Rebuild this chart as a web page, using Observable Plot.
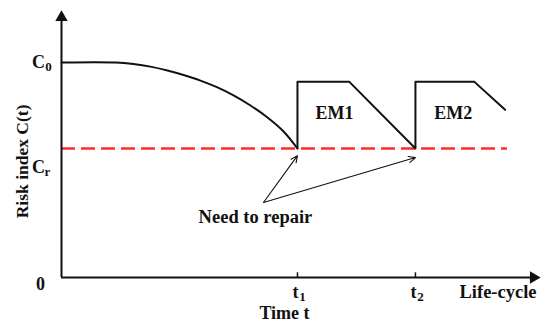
<!DOCTYPE html>
<html>
<head>
<meta charset="utf-8">
<script src="https://cdn.jsdelivr.net/npm/d3@7"></script>
<script src="https://cdn.jsdelivr.net/npm/@observablehq/plot@0.6"></script>
<style>
  html, body { margin: 0; padding: 0; background: #fff; }
</style>
</head>
<body>
<div id="chart"></div>
<script>
// Decay phase of the risk index (time in arbitrary units, C relative to C0)
const decayT = [0, 2.29, 3.05, 3.77, 4.49, 5.17, 5.89, 6.61, 7.29, 8.01, 8.73, 9.41, 10];
const decayC = [1, 1, 0.993, 0.981, 0.963, 0.942, 0.916, 0.884, 0.847, 0.8, 0.744, 0.679, 0.6];
// Maintenance (EM) phases
const emT = [10, 10, 12.2, 15, 15, 17.5, 18.8];
const emC = [0.6, 0.91, 0.91, 0.6, 0.91, 0.91, 0.78];
const C0 = 1;
const Cr = 0.6;
const repairTimes = [10, 15];
const repairSubs = ["1", "2"];
const emLabels = ["EM1", "EM2"];
const emLabelT = [11.57, 16.6];
const emLabelC = [0.763, 0.763];
const noteT = 8.56, noteC = 0.349;           // "Need to repair" arrow origin
const noteEndC = [0.567, 0.558];
const crEnd = 18.9;
const xMax = 20.3, yMax = 1.242;

const font = "Liberation Serif, Times New Roman, serif";
const decay = decayT.map((t, i) => ({t, c: decayC[i]}));
const em = emT.map((t, i) => ({t, c: emC[i]}));
const ems = emLabels.map((s, i) => ({s, t: emLabelT[i], c: emLabelC[i]}));
const notes = repairTimes.map((t, i) => ({t, c: noteEndC[i]}));
const ticks = repairTimes.map((t, i) => ({t, sub: repairSubs[i]}));

const chart = Plot.plot({
  width: 550,
  height: 325,
  marginLeft: 61,
  marginRight: 10,
  marginTop: 10,
  marginBottom: 48,
  x: {domain: [0, xMax], axis: null},
  y: {domain: [0, yMax], axis: null},
  style: {fontFamily: font, fontWeight: "bold", background: "#fff", color: "#111"},
  marks: [
    // critical level dashed line
    Plot.ruleY([Cr], {x1: 0, x2: crEnd, stroke: "#ff2a2a", strokeWidth: 2.6, strokeDasharray: "14,6"}),
    // axes
    Plot.ruleX([0], {y1: 0, y2: yMax - 0.04, stroke: "#111", strokeWidth: 2}),
    Plot.ruleY([0], {x1: 0, x2: xMax - 0.35, stroke: "#111", strokeWidth: 2}),
    Plot.dot([{t: 0, c: yMax}], {x: "t", y: "c", symbol: "triangle", r: 4.6, fill: "#111", stroke: null, dy: 7}),
    Plot.dot([{t: xMax, c: 0}], {x: "t", y: "c", symbol: "triangle", r: 4.6, fill: "#111", stroke: null, rotate: 90, dx: -7}),
    // ticks at t1, t2
    Plot.ruleX(repairTimes, {y1: 0, y2: 0.022, stroke: "#111", strokeWidth: 1.5}),
    // risk curve
    Plot.line(decay, {x: "t", y: "c", stroke: "#111", strokeWidth: 2, curve: "catmull-rom"}),
    Plot.line(em, {x: "t", y: "c", stroke: "#111", strokeWidth: 2}),
    // repair arrows
    Plot.arrow(notes, {x1: () => noteT, y1: () => noteC, x2: "t", y2: "c", stroke: "#111", strokeWidth: 1.1, headLength: 10, headAngle: 50}),
    Plot.text(["Need to repair"], {x: 8.22, y: 0.279, fontSize: 18.5, fill: "#111"}),
    // EM labels
    Plot.text(ems, {x: "t", y: "c", text: "s", fontSize: 18, fill: "#111"}),
    // y tick labels
    Plot.text(["C"], {x: 0, y: C0, dx: -23, fontSize: 18, fill: "#111"}),
    Plot.text(["0"], {x: 0, y: C0, dx: -13, dy: 4, fontSize: 13, fill: "#111"}),
    Plot.text(["C"], {x: 0, y: Cr, dx: -23, dy: 19, fontSize: 18, fill: "#111"}),
    Plot.text(["r"], {x: 0, y: Cr, dx: -14, dy: 23, fontSize: 13, fill: "#111"}),
    Plot.text(["0"], {x: 0, y: 0, dx: -21, dy: 7, fontSize: 18, fill: "#111"}),
    // x tick labels
    Plot.text(ticks, {x: "t", y: 0, text: () => "t", dx: -2, dy: 15, fontSize: 18, fill: "#111"}),
    Plot.text(ticks, {x: "t", y: 0, text: "sub", dx: 5, dy: 19, fontSize: 13, fill: "#111"}),
    Plot.text(["Life-cycle"], {x: 18.5, y: 0, dy: 15, fontSize: 18.5, fill: "#111"}),
    Plot.text(["Time t"], {x: 9.45, y: 0, dy: 36, fontSize: 18, fill: "#111"}),
    // y axis title
    Plot.text(["Risk index C(t)"], {x: 0, y: 0.54, dx: -39, rotate: -90, fontSize: 17.5, fill: "#111"})
  ]
});
document.getElementById("chart").appendChild(chart);
</script>
</body>
</html>
